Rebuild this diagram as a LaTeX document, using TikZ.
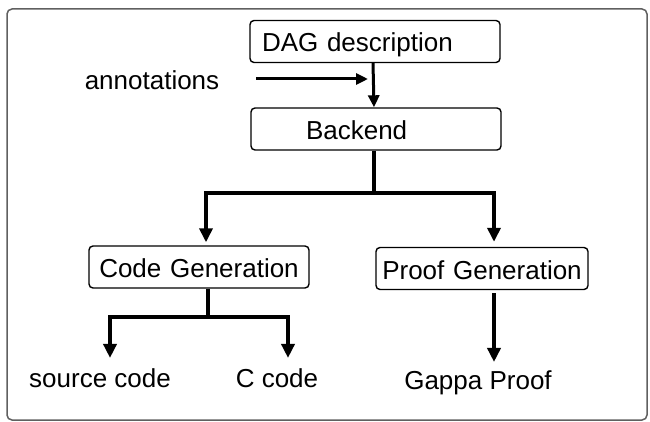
\documentclass[tikz,border=0pt]{standalone}
\usepackage{fontspec}
\setmainfont{Liberation Sans}
\usetikzlibrary{arrows.meta}
\begin{document}
\begin{tikzpicture}[x=1pt,y=-1pt,
  font=\fontsize{26}{31}\selectfont,
  box/.style={draw=black, line width=1.4pt, rounded corners=4pt, minimum height=42pt,
    text height=21pt, text depth=0pt, inner ysep=0pt},
  lbl/.style={inner sep=0pt, anchor=base},
  thinarrow/.style={line width=3pt, -{Triangle[length=12pt,width=11pt]}},
  thickarrow/.style={line width=4.5pt, -{Triangle[length=14pt,width=13pt]}},
  thickline/.style={line width=4.5pt}]
\useasboundingbox (0,0) rectangle (650,422);
\draw[gray!75!black, line width=1.5pt, rounded corners=5pt] (7,9) rectangle (647,420);

\node[box, text width=226pt, inner xsep=12pt, align=left] (dag) at (375,41.5) {DAG description};
\node[box, text width=140pt, inner xsep=55pt, align=left] (back) at (376,129) {Backend};
\node[box, text width=204pt, inner xsep=8pt, align=center] (code) at (199,267) {Code Generation};
\node[box, text width=202pt, inner xsep=5pt, align=center] (proof) at (482,268.5) {Proof Generation};

\node[lbl] (ann) at (152,90) {annotations};
\node[lbl] (src) at (100,387) {source code};
\node[lbl] (cc) at (277,387) {C code};
\node[lbl] (gappa) at (478,389) {Gappa Proof};

% DAG -> Backend, with annotations arrow
\draw[thinarrow] ([xshift=-2pt]dag.south) -- ([xshift=-2pt]back.north);
\coordinate (annstart) at (256,79);
\coordinate (annend) at (368,79);
\draw[thinarrow] (annstart) -- (annend);

% Backend branches
\coordinate (bj) at (374,193);
\draw[thickline] ([xshift=-2pt]back.south) -- ([yshift=-2pt]bj);
\draw[thickarrow] (bj) -| ([xshift=7pt,yshift=3pt]code.north);
\draw[thickarrow] (bj) -| ([xshift=12pt,yshift=5pt]proof.north);

% Code Generation branches
\coordinate (cj) at (208,317);
\draw[thickline] ([xshift=9pt]code.south) -- ([yshift=-2pt]cj);
\draw[thickarrow] (cj) -| ([xshift=10pt,yshift=10pt]src.north);
\draw[thickarrow] (cj) -| ([xshift=11pt,yshift=10pt]cc.north);

% Proof Generation -> Gappa
\draw[thickarrow] ([xshift=12pt,yshift=-3pt]proof.south) -- ([xshift=16pt,yshift=8pt]gappa.north);
\end{tikzpicture}
\end{document}
